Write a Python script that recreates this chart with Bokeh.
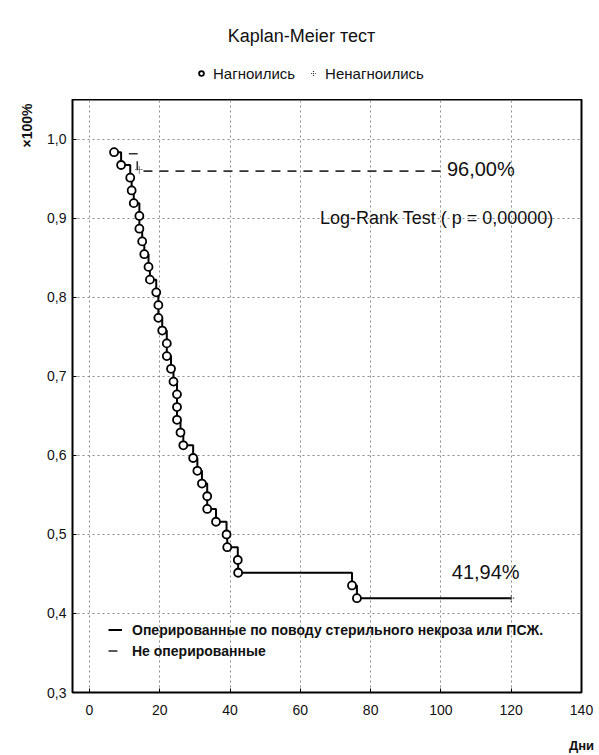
from bokeh.plotting import figure
from bokeh.layouts import column
from bokeh.models import Range1d, FixedTicker, Label, Legend, LegendItem, Title
from bokeh.embed import file_html
from bokeh.resources import INLINE

# ---- data ----
# operated group: day of each event and survival after it
op_days = [7, 9, 11.6, 12, 12.6, 14.2, 14.2, 15, 15.6, 16.8, 17.2, 19, 19.6, 19.6,
           20.7, 22, 22, 23.2, 23.9, 24.9, 24.9, 24.9, 25.9, 26.7, 29.5, 30.7, 32,
           33.5, 33.5, 36, 39, 39.2, 42.2, 42.3, 74.7, 76.1]
op_surv = [0.9839, 0.9677, 0.9516, 0.9355, 0.9194, 0.9032, 0.8871, 0.8710, 0.8548,
           0.8387, 0.8226, 0.8065, 0.7903, 0.7742, 0.7581, 0.7419, 0.7258, 0.7097,
           0.6935, 0.6774, 0.6613, 0.6452, 0.6290, 0.6129, 0.5968, 0.5806, 0.5645,
           0.5484, 0.5323, 0.5161, 0.5000, 0.4839, 0.4677, 0.4516, 0.4355, 0.4194]
op_end_day = 120
op_censor_days = [120]
op_censor_surv = [0.4194]

# non-operated group
nonop_days = [11.2, 13.6, 13.6, 100]
nonop_surv = [0.982, 0.982, 0.96, 0.96]
nonop_censor_days = [14.2]
nonop_censor_surv = [0.962]

x_ticks = [0, 20, 40, 60, 80, 100, 120, 140]
y_ticks = [0.3, 0.4, 0.5, 0.6, 0.7, 0.8, 0.9, 1.0]
y_tick_labels = ["0,3", "0,4", "0,5", "0,6", "0,7", "0,8", "0,9", "1,0"]

title_text = "Kaplan-Meier тест"
complete_label = "Нагноились"
censored_label = "Ненагноились"
op_label = "Оперированные по поводу стерильного некроза или ПСЖ."
nonop_label = "Не оперированные"
pct_nonop = "96,00%"
pct_op = "41,94%"
logrank_text = "Log-Rank Test ( p = 0,00000)"
y_unit = "×100%"
x_unit = "Дни"

SANS = "Liberation Sans"
W = 597
NAN = float("nan")

# ---------------- header (title + marker legend) ----------------
# its frame is aligned with the main plot's frame (page pixels 72..581)
h = figure(width=W, height=99, output_backend="svg", toolbar_location=None,
           x_range=Range1d(72, 581), y_range=Range1d(0, 99),
           x_axis_type=None, y_axis_type=None,
           min_border_left=0, min_border_right=0, min_border_top=0, min_border_bottom=0)
h.grid.visible = False
h.outline_line_color = None
h.background_fill_color = "white"
h.border_fill_color = "white"

# legend-only renderers (no visible points)
h_circ = h.scatter(x=[NAN], y=[NAN], marker="circle", size=8, fill_color="white",
                   line_color="black", line_width=1.8)
h_cens = h.scatter(x=[NAN], y=[NAN], marker="cross", size=8, line_color="#333333",
                   line_width=1.2, line_dash="1 1")
top_leg = Legend(items=[LegendItem(label=complete_label, renderers=[h_circ]),
                        LegendItem(label=censored_label, renderers=[h_cens])],
                 orientation="horizontal", location=(123, 16),
                 padding=0, spacing=12, margin=0, glyph_width=12, glyph_height=20,
                 label_standoff=6, label_height=20,
                 label_text_font=SANS, label_text_font_size="15px",
                 label_text_color="#111111",
                 background_fill_alpha=0, border_line_alpha=0)
h.add_layout(top_leg, "center")
h.add_layout(Label(x=301, y=64, text=title_text, text_align="center",
                   text_baseline="middle", text_font=SANS, text_font_size="18px",
                   text_color="#111111"))

# ---------------- main plot ----------------
p = figure(width=W, height=656, output_backend="svg", toolbar_location=None,
           x_range=Range1d(-4.83, 140), y_range=Range1d(0.3, 1.0506),
           min_border_left=72, min_border_right=16, min_border_top=0, min_border_bottom=61)
p.background_fill_color = "white"
p.border_fill_color = "white"
p.outline_line_color = "black"
p.outline_line_width = 2

p.xaxis.ticker = FixedTicker(ticks=x_ticks)
p.yaxis.ticker = FixedTicker(ticks=y_ticks)
p.yaxis.major_label_overrides = {t: l for t, l in zip(y_ticks, y_tick_labels)}
for ax in (p.xaxis, p.yaxis):
    ax.axis_line_color = None
    ax.major_tick_in = 4
    ax.major_tick_out = 0
    ax.minor_tick_line_color = None
    ax.major_tick_line_color = "black"
    ax.major_label_text_font = SANS
    ax.major_label_text_font_size = "14px"
    ax.major_label_text_color = "#111111"
    ax.axis_label_text_font = SANS
    ax.axis_label_text_font_size = "13px"
    ax.axis_label_text_font_style = "bold"
    ax.axis_label_text_color = "#111111"
p.xaxis.major_label_standoff = 12
p.yaxis.major_label_standoff = 6

p.xaxis.axis_label = x_unit
p.xaxis.axis_label_standoff = 20
if "axis_label_align" in p.xaxis[0].properties():
    p.xaxis[0].axis_label_align = "end"

# y unit near the top of the left side
p.add_layout(Title(text=y_unit, align="right", offset=4, standoff=20,
                   text_font=SANS, text_font_size="14px", text_font_style="bold",
                   text_color="#111111"), "left")

p.grid.grid_line_color = "#8a8a8a"
p.grid.grid_line_dash = "2 3"
p.grid.grid_line_width = 1

# step path for operated group
xs = [op_days[0]]
ys = [op_surv[0]]
prev = op_surv[0]
for d, s in zip(op_days[1:], op_surv[1:]):
    xs += [d, d]
    ys += [prev, s]
    prev = s
xs.append(op_end_day)
ys.append(prev)

op_line = p.line(xs, ys, line_color="black", line_width=2)
nonop_line = p.line(nonop_days, nonop_surv, line_color="#333333", line_width=1.6,
                    line_dash="9 7")

circ = p.scatter(op_days, op_surv, marker="circle", size=8, fill_color="white",
                 line_color="black", line_width=1.8)
cens = p.scatter(op_censor_days + nonop_censor_days, op_censor_surv + nonop_censor_surv,
                 marker="cross", size=8, line_color="#333333", line_width=1.2,
                 line_dash="1 1")

# bottom-left legend
bot_leg = Legend(items=[LegendItem(label=op_label, renderers=[op_line]),
                        LegendItem(label=nonop_label, renderers=[nonop_line])],
                 location=(36, 31), padding=0, spacing=0, margin=0,
                 glyph_width=14, glyph_height=21, label_height=21, label_standoff=10,
                 label_text_font=SANS, label_text_font_size="14px",
                 label_text_font_style="bold", label_text_color="#111111",
                 background_fill_alpha=0, border_line_alpha=0)
p.add_layout(bot_leg, "center")

# text annotations inside the frame
p.add_layout(Label(x=101.7, y=0.963, text=pct_nonop, text_align="left",
                   text_baseline="middle", text_font=SANS, text_font_size="20px",
                   text_color="#111111"))
p.add_layout(Label(x=103.1, y=0.452, text=pct_op, text_align="left",
                   text_baseline="middle", text_font=SANS, text_font_size="20px",
                   text_color="#111111"))
p.add_layout(Label(x=65.6, y=0.901, text=logrank_text, text_align="left",
                   text_baseline="middle", text_font=SANS, text_font_size="18px",
                   text_color="#111111"))

layout = column(h, p, spacing=0)
open("out.html", "w").write(file_html(layout, INLINE))
